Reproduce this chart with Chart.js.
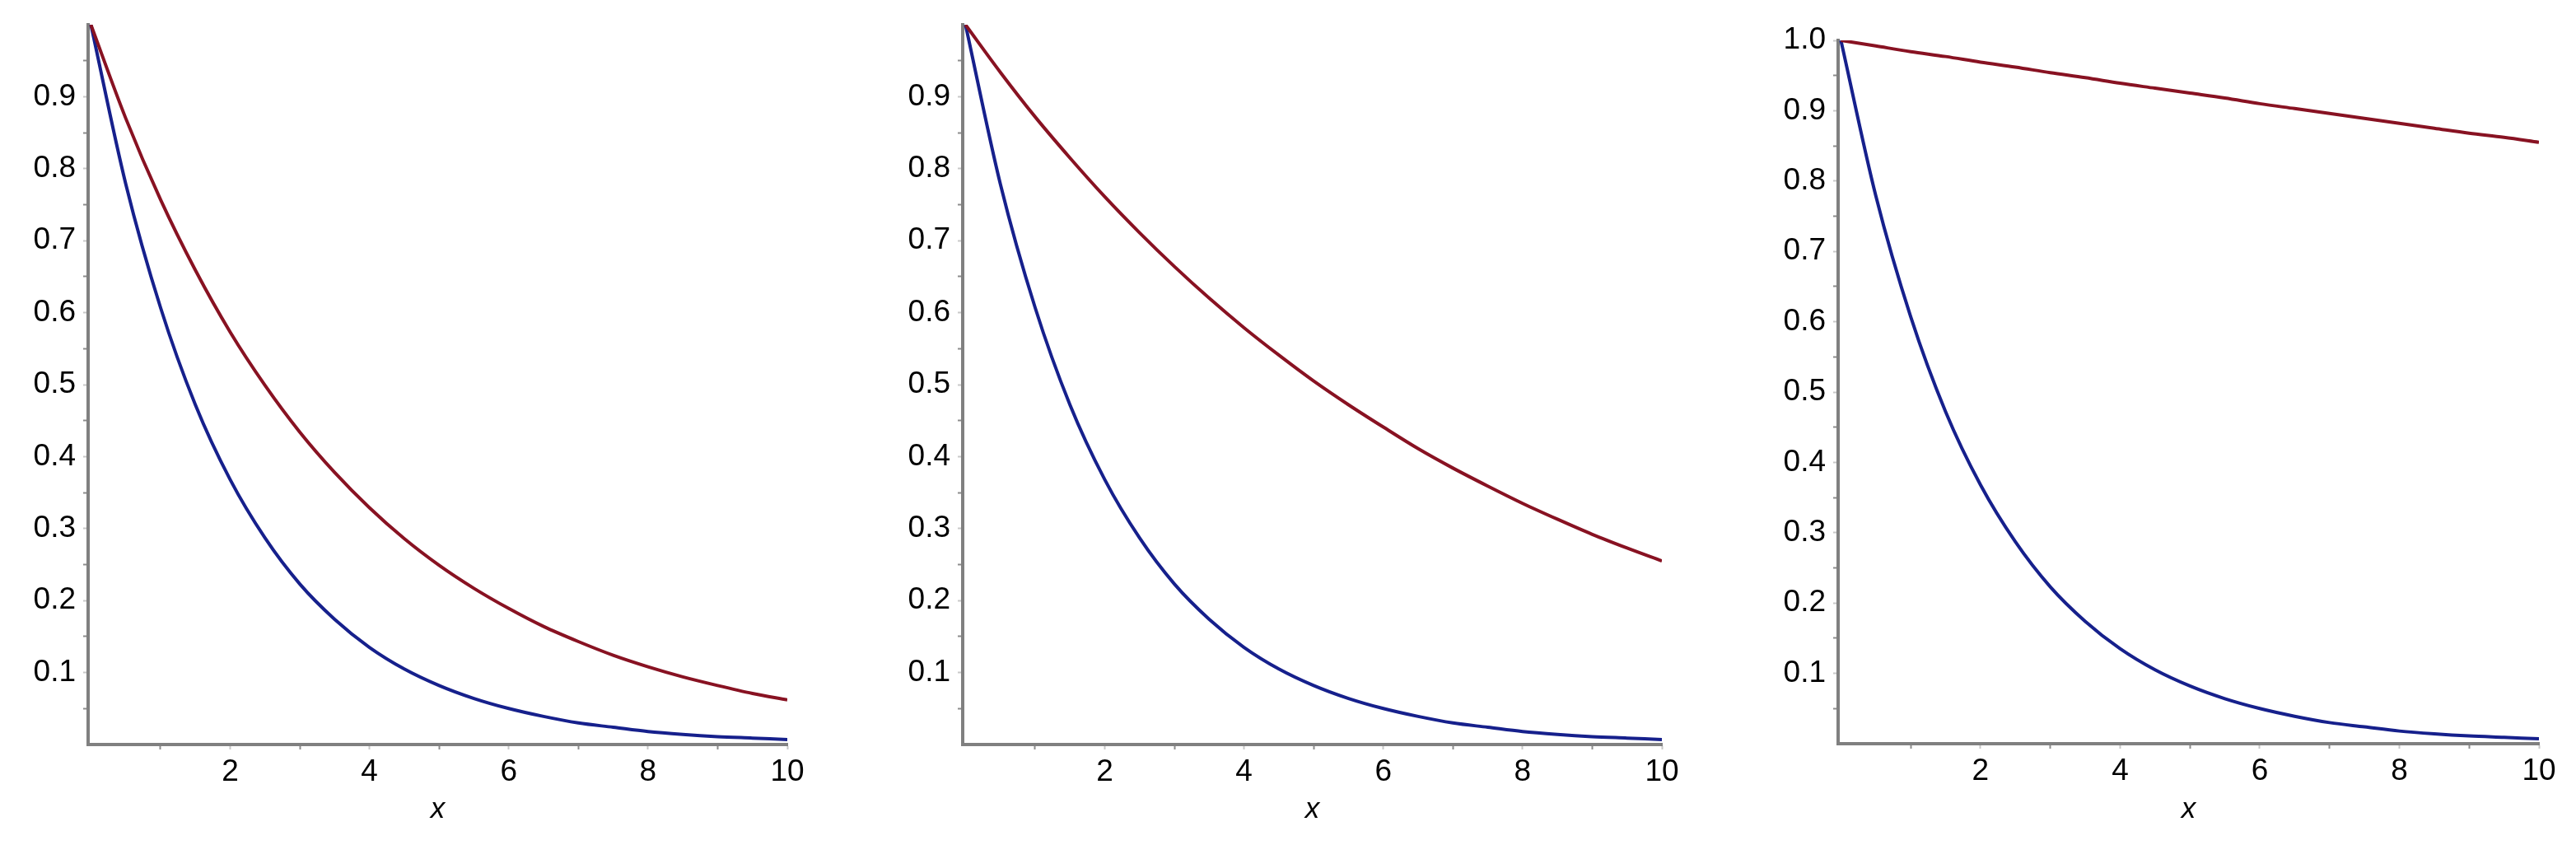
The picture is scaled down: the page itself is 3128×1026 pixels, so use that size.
<!DOCTYPE html>
<html>
<head>
<meta charset="utf-8">
<script src="https://cdn.jsdelivr.net/npm/chart.js@4.4.1/dist/chart.umd.min.js"></script>
<style>
  html, body { margin: 0; padding: 0; background: #fff; }
  #wrap { position: relative; width: 3128px; height: 1026px; overflow: hidden; }
  canvas { position: absolute; top: 0; }
</style>
</head>
<body>
<div id="wrap">
  <canvas id="p1" width="1050" height="1026" style="left:0px"></canvas>
  <canvas id="p2" width="1060" height="1026" style="left:1050px"></canvas>
  <canvas id="p3" width="1018" height="1026" style="left:2110px"></canvas>
</div>
<script>
const xValues = [0, 0.5, 1, 1.5, 2, 2.5, 3, 3.5, 4, 4.5, 5, 5.5, 6, 6.5, 7, 7.5, 8, 8.5, 9, 9.5, 10];

// blue curve (same in all three panels)
const blueValues = [1.000, 0.779, 0.607, 0.472, 0.368, 0.287, 0.223, 0.174, 0.135, 0.105, 0.082,
                    0.064, 0.050, 0.039, 0.030, 0.024, 0.018, 0.014, 0.011, 0.009, 0.007];

// red curve, one per panel
const redLeft = [1.000, 0.870, 0.757, 0.659, 0.573, 0.499, 0.434, 0.378, 0.329, 0.286, 0.249,
                 0.217, 0.189, 0.164, 0.143, 0.124, 0.108, 0.094, 0.082, 0.071, 0.062];
const redMiddle = [1.000, 0.934, 0.872, 0.815, 0.761, 0.711, 0.664, 0.620, 0.579, 0.541, 0.505,
                   0.472, 0.441, 0.411, 0.384, 0.359, 0.335, 0.313, 0.292, 0.273, 0.255];
const redRight = [1.000, 0.992, 0.984, 0.977, 0.969, 0.962, 0.954, 0.947, 0.939, 0.932, 0.925,
                  0.918, 0.910, 0.903, 0.896, 0.889, 0.882, 0.875, 0.868, 0.862, 0.855];

const xTickLabels = ['2', '4', '6', '8', '10'];
const yTickLabels = ['0.1', '0.2', '0.3', '0.4', '0.5', '0.6', '0.7', '0.8', '0.9'];
const yTickLabelsTop = ['0.1', '0.2', '0.3', '0.4', '0.5', '0.6', '0.7', '0.8', '0.9', '1.0'];

const RED = '#881222';
const BLUE = '#16208c';
const AXIS = '#808080';
const MAJOR_TICK = '#c8c8c8';
const MINOR_TICK = '#8c8c8c';

Chart.defaults.font.family = "'Liberation Sans', Arial, sans-serif";

function pts(ys) {
  return xValues.map((x, i) => ({ x: x, y: ys[i] }));
}

function curve(ys, color) {
  return {
    data: pts(ys),
    borderColor: color,
    borderWidth: 4,
    pointRadius: 0,
    fill: false,
    cubicInterpolationMode: 'monotone',
  };
}

function makePanel(id, red, box, yLabels) {
  new Chart(document.getElementById(id), {
    type: 'line',
    data: { datasets: [curve(red, RED), curve(blueValues, BLUE)] },
    options: {
      responsive: false,
      animation: false,
      events: [],
      layout: { padding: { left: 0, right: box.right, top: box.top, bottom: 0 } },
      plugins: { legend: { display: false }, tooltip: { enabled: false } },
      scales: {
        x: {
          type: 'linear',
          min: -0.04,
          max: 10,
          grid: {
            drawOnChartArea: false,
            drawTicks: true,
            tickLength: 6,
            tickWidth: 2,
            tickColor: (ctx) => {
              const k = Math.round(ctx.tick.value);
              if (k <= 0) return 'rgba(0,0,0,0)';
              return k % 2 === 0 ? MAJOR_TICK : MINOR_TICK;
            },
          },
          border: { display: true, color: AXIS, width: 4 },
          ticks: {
            stepSize: 1,
            includeBounds: false,
            autoSkip: false,
            maxRotation: 0,
            padding: 6,
            color: '#000',
            font: { size: 37 },
            callback: (v) => (xTickLabels.includes(String(v)) ? String(v) : ''),
          },
          title: {
            display: true,
            text: 'x',
            color: '#000',
            font: { size: 35, style: 'italic' },
            padding: { top: 0, bottom: 22 },
          },
          afterFit: (s) => {
            s.height = 1026 - box.bottom;
            s.paddingLeft = 0;
            s.paddingRight = 0;
          },
        },
        y: {
          min: 0,
          max: 1,
          grid: {
            drawOnChartArea: false,
            drawTicks: true,
            tickLength: 6,
            tickWidth: 2,
            tickColor: (ctx) => {
              const k = Math.round(ctx.tick.value * 20);
              if (k === 0) return 'rgba(0,0,0,0)';
              if (k === 20 && !yLabels.includes('1.0')) return 'rgba(0,0,0,0)';
              return k % 2 === 0 ? MAJOR_TICK : MINOR_TICK;
            },
          },
          border: { display: true, color: AXIS, width: 4 },
          ticks: {
            stepSize: 0.05,
            includeBounds: false,
            autoSkip: false,
            padding: 9,
            color: '#000',
            font: { size: 37 },
            callback: (v) => {
              const k = Math.round(v * 20);
              if (k % 2 !== 0) return '';
              const s = (k / 20).toFixed(1);
              return yLabels.includes(s) ? s : '';
            },
          },
          afterFit: (s) => {
            s.width = box.left;
            s.paddingTop = 0;
            s.paddingBottom = 0;
          },
        },
      },
    },
  });
}

makePanel('p1', redLeft, { left: 107, right: 94, top: 30, bottom: 904 }, yTickLabels);
makePanel('p2', redMiddle, { left: 119, right: 92, top: 30, bottom: 904 }, yTickLabels);
makePanel('p3', redRight, { left: 122, right: 45, top: 49, bottom: 903 }, yTickLabelsTop);
</script>
</body>
</html>
